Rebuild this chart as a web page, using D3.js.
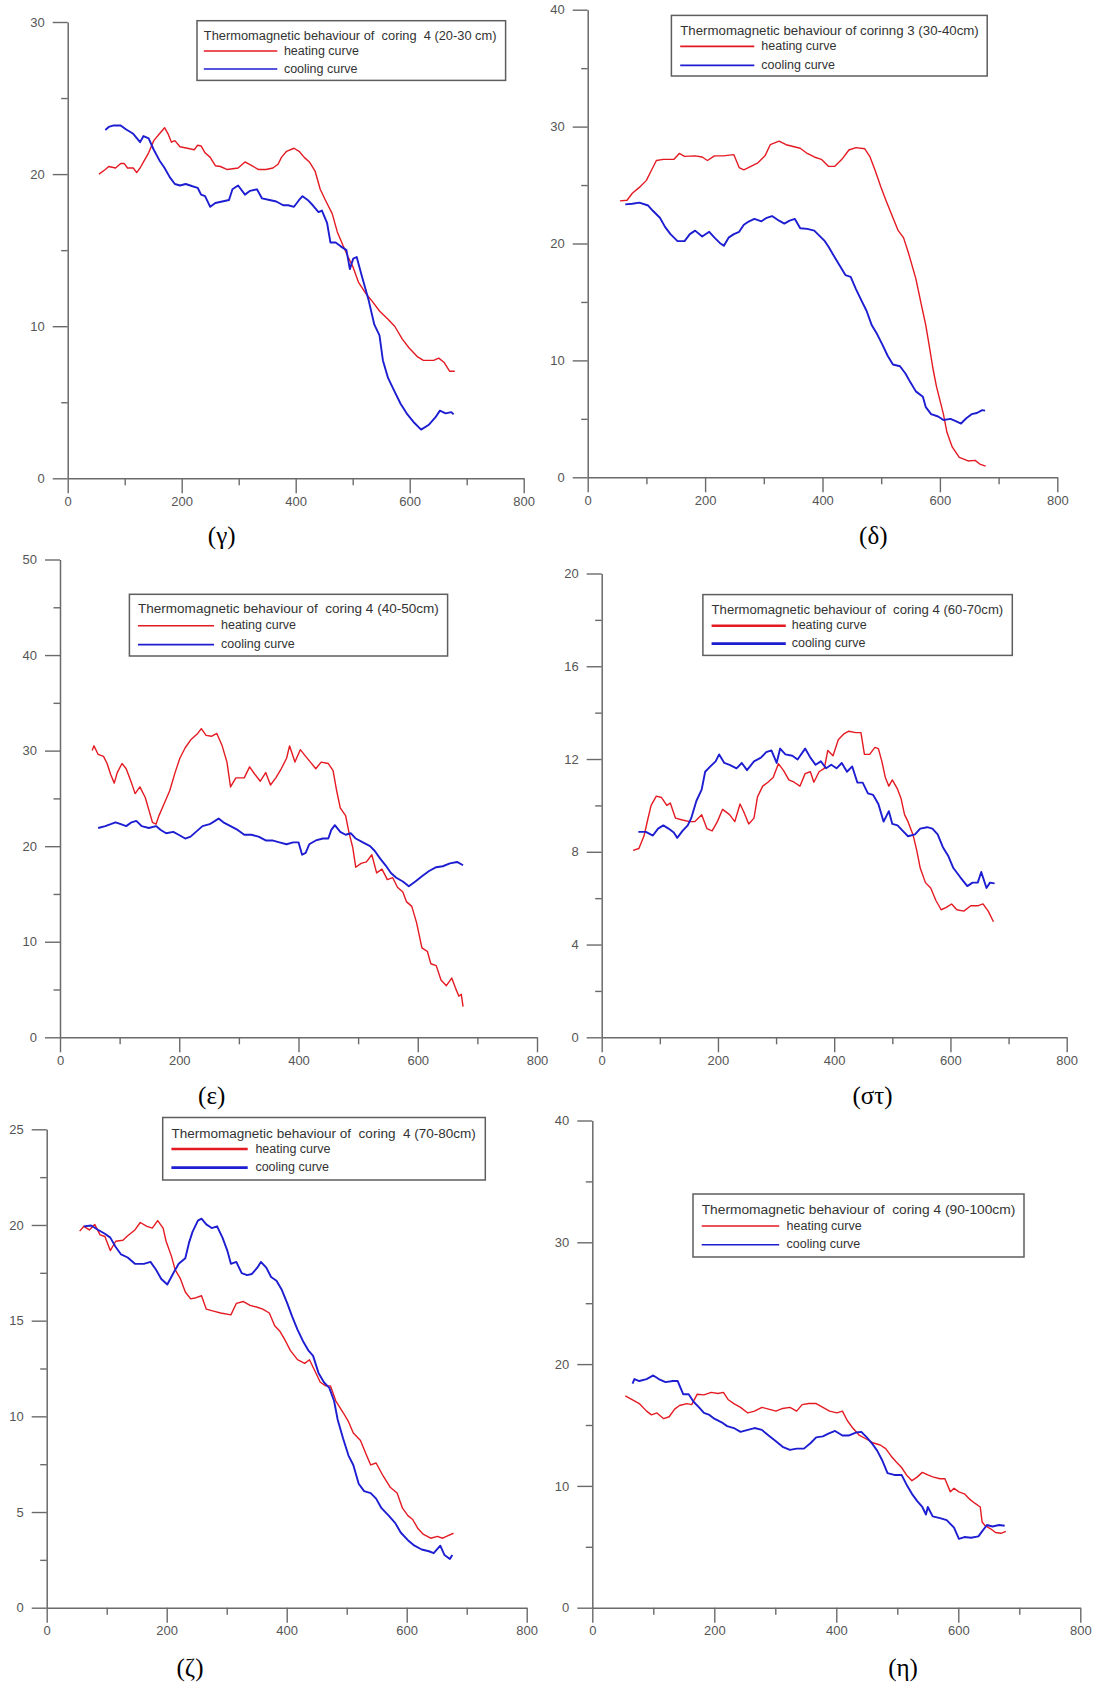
<!DOCTYPE html>
<html>
<head>
<meta charset="utf-8">
<script src="https://cdn.jsdelivr.net/npm/d3@7"></script>
<style>
  body { margin: 0; background: #fff; }
  svg { display: block; }
  text { font-family: "Liberation Sans", Arial, sans-serif; }
  text.caption { font-family: "Liberation Serif", "Times New Roman", serif; }
</style>
</head>
<body>
<svg id="fig" width="1096" height="1690"></svg>
<script>
// ---- data: [temperature, value] ----
const gammaHeat = [[55,20.0],[66,20.3],[72,20.5],[84,20.4],[93,20.7],[99,20.7],[105,20.4],[115,20.4],[121,20.1],[127,20.4],[133,20.8],[142,21.4],[151,22.2],[161,22.65],[170,23.05],[176,22.65],[182,22.1],[188,22.2],[197,21.8],[210,21.7],[222,21.6],[228,21.9],[234,21.85],[241,21.4],[250,21.1],[259,20.55],[268,20.5],[280,20.3],[299,20.4],[311,20.8],[323,20.55],[335,20.3],[348,20.3],[360,20.4],[369,20.65],[375,21.1],[384,21.5],[397,21.7],[406,21.5],[415,21.1],[424,20.8],[434,20.2],[443,19.0],[452,18.3],[464,17.4],[473,16.2],[483,15.3],[492,14.55],[501,13.85],[510,12.9],[522,12.2],[535,11.6],[547,11.0],[562,10.45],[574,9.98],[587,9.15],[599,8.57],[614,7.98],[624,7.75],[642,7.75],[651,7.9],[660,7.63],[670,7.04],[679,7.04]];
const gammaCool = [[66,22.9],[72,23.1],[81,23.2],[93,23.2],[102,22.95],[115,22.65],[127,22.1],[133,22.5],[142,22.35],[151,21.6],[161,20.9],[170,20.4],[179,19.8],[188,19.35],[197,19.25],[207,19.35],[219,19.2],[228,19.1],[234,18.65],[241,18.55],[250,17.85],[259,18.1],[271,18.2],[283,18.3],[289,19.0],[299,19.25],[311,18.65],[320,18.9],[332,19.0],[341,18.4],[354,18.3],[366,18.2],[378,17.95],[387,17.95],[397,17.85],[406,18.3],[412,18.55],[421,18.3],[430,17.95],[440,17.5],[446,17.6],[455,16.8],[461,15.5],[470,15.5],[479,15.25],[489,15.0],[495,13.75],[501,14.45],[507,14.55],[516,13.3],[528,11.7],[538,10.1],[547,9.4],[553,7.75],[562,6.6],[571,5.9],[584,4.9],[596,4.2],[608,3.65],[620,3.2],[633,3.5],[645,4.0],[653,4.45],[663,4.27],[673,4.35],[677,4.2]];

const deltaHeat = [[55,23.65],[67,23.7],[76,24.3],[88,24.8],[100,25.4],[108,26.2],[117,27.1],[129,27.2],[147,27.2],[156,27.7],[165,27.45],[183,27.5],[195,27.4],[204,27.1],[216,27.5],[231,27.5],[249,27.6],[258,26.5],[266,26.3],[278,26.6],[290,26.9],[302,27.5],[311,28.45],[326,28.75],[338,28.45],[350,28.3],[362,28.15],[374,27.7],[386,27.4],[398,27.2],[410,26.6],[421,26.6],[433,27.2],[445,28.0],[457,28.2],[472,28.1],[481,27.4],[490,26.2],[499,24.9],[508,23.7],[520,22.2],[529,21.1],[538,20.5],[547,19.1],[559,17.0],[568,14.85],[576,13.0],[582,11.2],[588,9.35],[594,7.8],[600,6.6],[606,5.4],[612,3.85],[621,2.6],[633,1.7],[648,1.4],[660,1.45],[669,1.1],[678,0.95]];
const deltaCool = [[64,23.35],[76,23.4],[88,23.5],[103,23.25],[111,22.8],[123,22.2],[132,21.4],[141,20.8],[153,20.2],[165,20.2],[174,20.8],[183,21.1],[195,20.6],[207,21.0],[216,20.5],[225,20.05],[232,19.8],[240,20.5],[249,20.8],[258,21.0],[266,21.6],[275,21.9],[284,22.1],[296,21.9],[305,22.2],[314,22.35],[326,21.95],[335,21.7],[344,21.95],[353,22.1],[362,21.3],[374,21.25],[386,21.1],[395,20.65],[404,20.2],[410,19.75],[421,18.8],[430,18.05],[439,17.3],[448,17.15],[457,16.1],[466,15.15],[475,14.25],[484,13.0],[493,12.25],[502,11.35],[511,10.4],[520,9.65],[532,9.5],[541,8.9],[550,8.1],[559,7.35],[571,6.9],[576,6.0],[585,5.4],[597,5.2],[606,4.9],[618,5.0],[627,4.8],[636,4.6],[645,5.05],[654,5.4],[663,5.5],[672,5.75],[677,5.7]];

const epsilonHeat = [[54,30.0],[57,30.5],[64,29.6],[73,29.4],[79,28.65],[85,27.5],[91,26.6],[96,27.7],[104,28.65],[111,28.1],[120,26.6],[126,25.5],[134,26.2],[143,25.1],[149,23.8],[155,22.5],[161,22.3],[166,23.2],[175,24.5],[184,25.8],[193,27.7],[201,29.2],[210,30.3],[219,31.1],[231,31.8],[237,32.3],[245,31.6],[254,31.5],[263,31.8],[272,30.5],[280,28.8],[286,26.2],[295,27.15],[309,27.15],[318,28.3],[327,27.5],[336,26.8],[345,27.7],[353,26.4],[362,27.15],[371,28.1],[380,29.2],[385,30.5],[394,28.8],[403,30.1],[412,29.4],[420,28.8],[429,28.1],[438,28.8],[450,28.65],[458,27.9],[464,25.8],[470,24.0],[479,23.2],[485,21.35],[491,19.85],[496,17.8],[505,18.2],[514,18.35],[523,19.1],[531,17.2],[540,17.6],[549,16.5],[558,16.7],[566,15.7],[575,15.2],[581,14.2],[590,13.7],[598,12.0],[607,9.35],[616,9.0],[622,7.7],[631,7.5],[639,6.0],[648,5.4],[657,6.2],[663,5.2],[669,4.3],[673,4.5],[676,3.2]];
const epsilonCool = [[64,21.9],[76,22.1],[85,22.3],[93,22.5],[102,22.3],[111,22.1],[120,22.5],[128,22.65],[137,22.1],[149,21.9],[161,22.1],[169,21.7],[178,21.35],[190,21.5],[199,21.2],[210,20.8],[219,21.0],[228,21.5],[239,22.1],[251,22.3],[260,22.65],[266,22.9],[274,22.5],[286,22.1],[298,21.7],[309,21.2],[321,21.2],[333,21.0],[345,20.6],[356,20.6],[368,20.4],[380,20.2],[391,20.4],[400,20.4],[406,19.1],[412,19.3],[418,20.2],[429,20.6],[441,20.8],[450,20.8],[455,21.7],[461,22.2],[470,21.5],[479,21.2],[488,21.35],[496,20.8],[508,20.4],[520,20.0],[528,19.5],[537,18.7],[546,18.0],[555,17.2],[564,16.7],[575,16.3],[585,15.8],[596,16.3],[607,16.85],[619,17.4],[631,17.8],[642,17.9],[654,18.2],[666,18.35],[676,18.0]];

const sigmaTauHeat = [[54,8.06],[64,8.14],[73,8.7],[79,9.37],[85,10.0],[94,10.4],[103,10.34],[112,10.0],[118,10.1],[127,9.45],[139,9.37],[151,9.3],[160,9.3],[172,9.6],[181,9.0],[190,8.9],[199,9.3],[208,9.83],[220,9.6],[229,9.3],[238,10.06],[244,9.75],[253,9.2],[262,9.45],[268,10.37],[277,10.83],[286,11.0],[295,11.2],[304,11.8],[313,11.5],[322,11.1],[331,11.0],[341,10.83],[350,11.37],[359,11.45],[365,11.0],[374,11.45],[383,11.6],[389,12.37],[398,12.14],[407,12.83],[416,13.07],[425,13.2],[437,13.14],[446,13.14],[452,12.2],[461,12.2],[470,12.5],[476,12.45],[482,11.9],[488,11.2],[494,10.83],[500,11.1],[509,10.7],[515,10.3],[521,9.6],[527,9.3],[536,8.7],[542,8.06],[548,7.3],[557,6.67],[566,6.44],[575,5.9],[584,5.5],[593,5.6],[602,5.75],[611,5.5],[623,5.44],[635,5.67],[647,5.67],[656,5.75],[665,5.44],[674,4.98]];
const sigmaTauCool = [[63,8.86],[76,8.86],[88,8.7],[97,9.0],[106,9.14],[115,9.0],[124,8.83],[130,8.6],[139,8.9],[148,9.14],[154,9.45],[163,10.2],[172,10.68],[178,11.45],[187,11.68],[196,11.9],[202,12.2],[211,11.83],[220,11.75],[232,11.6],[241,11.83],[250,11.52],[262,11.9],[274,12.06],[283,12.3],[292,12.37],[301,11.83],[307,12.45],[316,12.2],[328,12.14],[337,11.98],[350,12.45],[359,12.06],[368,11.75],[377,11.9],[386,11.6],[395,11.75],[404,11.6],[413,11.83],[422,11.45],[431,11.68],[440,10.98],[449,10.98],[458,10.52],[467,10.45],[476,10.06],[485,9.3],[494,9.75],[500,9.2],[509,9.14],[518,8.9],[527,8.67],[539,8.75],[548,9.0],[560,9.06],[569,9.0],[578,8.75],[587,8.2],[596,7.83],[605,7.3],[617,6.9],[629,6.52],[638,6.67],[647,6.67],[653,7.13],[662,6.44],[668,6.67],[676,6.64]];

const zetaHeat = [[55,19.68],[62,19.93],[71,19.74],[80,20.03],[89,19.48],[97,19.4],[106,18.66],[115,19.15],[127,19.2],[135,19.44],[147,19.74],[156,20.13],[167,19.93],[176,19.84],[185,20.23],[194,19.84],[199,19.15],[208,18.36],[214,17.67],[223,17.18],[231,16.5],[240,16.14],[249,16.2],[258,16.3],[266,15.6],[278,15.5],[290,15.4],[307,15.3],[316,15.9],[328,16.0],[339,15.8],[351,15.7],[360,15.6],[371,15.4],[380,14.73],[389,14.43],[398,13.94],[406,13.45],[418,12.96],[430,12.77],[438,12.96],[447,12.37],[456,11.78],[465,11.59],[473,11.59],[482,10.8],[494,10.2],[503,9.72],[511,9.13],[523,8.74],[532,8.05],[540,7.46],[549,7.56],[561,6.87],[573,6.28],[584,5.99],[593,5.2],[602,4.81],[610,4.61],[619,4.12],[628,3.83],[640,3.63],[651,3.73],[660,3.63],[669,3.77],[678,3.89]];
const zetaCool = [[62,19.93],[74,19.97],[86,19.74],[97,19.54],[106,19.34],[115,18.85],[124,18.46],[135,18.3],[147,17.97],[162,17.97],[173,18.07],[182,17.67],[191,17.18],[201,16.89],[211,17.48],[220,17.97],[231,18.26],[237,19.05],[243,19.64],[252,20.23],[258,20.33],[266,20.03],[275,19.84],[284,19.93],[293,19.34],[301,18.66],[307,17.97],[316,18.07],[325,17.48],[334,17.38],[342,17.44],[351,17.77],[357,18.07],[366,17.77],[374,17.28],[383,17.09],[392,16.6],[401,15.9],[409,15.22],[418,14.53],[427,13.94],[436,13.45],[444,13.16],[453,12.27],[462,11.78],[471,11.49],[479,10.8],[485,9.82],[494,8.84],[503,7.95],[511,7.46],[520,6.48],[529,6.09],[540,5.99],[549,5.7],[558,5.2],[570,4.81],[581,4.42],[590,3.93],[602,3.53],[613,3.24],[625,3.04],[637,2.95],[645,2.85],[656,3.24],[663,2.75],[672,2.55],[676,2.75]];

const etaHeat = [[54,17.4],[66,17.07],[77,16.76],[89,16.14],[97,15.83],[106,15.99],[117,15.52],[126,15.68],[135,16.3],[143,16.6],[155,16.76],[163,16.67],[172,17.53],[183,17.47],[195,17.68],[206,17.59],[215,17.68],[223,17.07],[232,16.76],[243,16.45],[255,15.99],[266,16.14],[278,16.45],[289,16.3],[301,16.14],[312,16.36],[324,16.45],[335,16.14],[344,16.67],[355,16.76],[367,16.76],[378,16.45],[389,16.14],[401,15.99],[410,16.14],[418,15.37],[427,14.75],[438,14.14],[450,13.83],[461,13.52],[472,13.36],[481,13.06],[490,12.44],[498,11.98],[507,11.51],[515,10.9],[524,10.43],[533,10.74],[541,11.11],[550,10.9],[558,10.74],[570,10.59],[578,10.59],[587,9.51],[593,9.81],[601,9.51],[610,9.35],[619,8.89],[627,8.58],[636,8.27],[639,7.04],[644,6.73],[653,6.48],[661,6.17],[670,6.11],[678,6.27]];
const etaCool = [[66,18.4],[69,18.77],[77,18.61],[89,18.77],[100,19.07],[109,18.77],[120,18.52],[132,18.61],[140,18.61],[149,17.53],[158,17.53],[166,16.91],[175,16.45],[183,15.99],[192,15.83],[200,15.52],[212,15.22],[221,14.91],[232,14.75],[243,14.44],[255,14.6],[266,14.75],[278,14.6],[289,14.14],[301,13.67],[312,13.21],[324,12.96],[335,13.06],[347,13.06],[358,13.52],[367,13.98],[378,14.07],[387,14.29],[398,14.51],[410,14.14],[421,14.14],[432,14.38],[441,14.44],[450,13.98],[458,13.52],[467,12.9],[475,12.13],[484,11.05],[495,10.9],[507,10.9],[515,10.12],[524,9.35],[533,8.73],[541,8.27],[547,7.65],[550,8.27],[558,7.5],[570,7.35],[581,7.19],[593,6.57],[601,5.65],[610,5.8],[621,5.74],[633,5.86],[639,6.27],[647,6.79],[656,6.67],[667,6.79],[676,6.73]];

const heatSeries = [gammaHeat, deltaHeat, epsilonHeat, sigmaTauHeat, zetaHeat, etaHeat];
const coolSeries = [gammaCool, deltaCool, epsilonCool, sigmaTauCool, zetaCool, etaCool];

const xTickValues = [0, 200, 400, 600, 800];
const xMinorValues = [100, 300, 500, 700];
const yMaxValues = [30, 40, 50, 20, 25, 40];
const yStepValues = [10, 10, 10, 4, 5, 10];
const seriesNames = ["heating curve", "cooling curve"];
const legendTitles = [
  "Thermomagnetic behaviour of  coring  4 (20-30 cm)",
  "Thermomagnetic behaviour of corinng 3 (30-40cm)",
  "Thermomagnetic behaviour of  coring 4 (40-50cm)",
  "Thermomagnetic behaviour of  coring 4 (60-70cm)",
  "Thermomagnetic behaviour of  coring  4 (70-80cm)",
  "Thermomagnetic behaviour of  coring 4 (90-100cm)"
];
const captions = ["(γ)", "(δ)", "(ε)", "(στ)", "(ζ)", "(η)"];

// ---- layout (pixel frames of each panel) ----
const layout = [
  { l: 67.7, r: 523.7, t: 22, b: 478.3, box: [197, 20.7, 308.6, 59.7], tY: 35, hY: 51, cY: 69, lx: [203.8, 277.3], tx: 283.9, tw: 292.7, capX: 221.7, capY: 544, lw: 1.6 },
  { l: 587.7, r: 1057.3, t: 9.7, b: 477.3, box: [671.4, 15.4, 315.8, 60.6], tY: 30.4, hY: 46.4, cY: 65.4, lx: [680.2, 754.3], tx: 761.3, tw: 298.6, capX: 873.3, capY: 544, lw: 1.6 },
  { l: 60, r: 537, t: 559.5, b: 1037.3, box: [129.4, 594.3, 318.2, 61.7], tY: 608.6, hY: 625.7, cY: 644.6, lx: [138, 214], tx: 221, tw: 300.8, capX: 211.7, capY: 1104, lw: 1.6 },
  { l: 601.7, r: 1066.7, t: 573.5, b: 1037.3, box: [702.9, 594.6, 309.4, 60.8], tY: 609, hY: 625.7, cY: 643.6, lx: [711.6, 785.8], tx: 791.7, tw: 291.6, capX: 872.5, capY: 1104, lw: 2.6 },
  { l: 46.7, r: 526.7, t: 1129.3, b: 1607.7, box: [162.7, 1117.5, 322.6, 62.5], tY: 1133, hY: 1149, cY: 1167.6, lx: [171.4, 247.7], tx: 255.4, tw: 304.5, capX: 190, capY: 1676, lw: 2.6 },
  { l: 592.3, r: 1080.3, t: 1120.5, b: 1607.7, box: [693, 1194, 331, 63], tY: 1209, hY: 1226, cY: 1244.7, lx: [701.7, 779.2], tx: 786.6, tw: 313.6, capX: 903, capY: 1676, lw: 1.6 }
];

const heatColor = "#e41a22";
const coolColor = "#1d1dd2";
const axisColor = "#6a6a6a";

const svg = d3.select("#fig");
svg.append("rect").attr("width", 1096).attr("height", 1690).attr("fill", "#fff");

layout.forEach((L, i) => {
  const g = svg.append("g");
  const yMax = yMaxValues[i];
  const step = yStepValues[i];
  const majors = d3.range(0, yMax + step / 2, step);
  const minors = majors.slice(0, -1).map(v => v + step / 2);

  const x = d3.scaleLinear().domain([0, 800]).range([L.l, L.r]);
  const y = d3.scaleLinear().domain([0, yMax]).range([L.b, L.t]);

  // y axis (major + minor ticks)
  g.append("g")
    .attr("transform", `translate(${L.l},0)`)
    .call(d3.axisLeft(y).tickValues(majors).tickSize(15).tickSizeOuter(0).tickPadding(8).tickFormat(d3.format("d")));
  g.append("g")
    .attr("transform", `translate(${L.l},0)`)
    .call(d3.axisLeft(y).tickValues(minors).tickSize(6.5).tickFormat(""))
    .call(s => s.select(".domain").remove());

  // x axis
  g.append("g")
    .attr("transform", `translate(0,${L.b})`)
    .call(d3.axisBottom(x).tickValues(xTickValues).tickSize(15).tickSizeOuter(0).tickPadding(3));
  g.append("g")
    .attr("transform", `translate(0,${L.b})`)
    .call(d3.axisBottom(x).tickValues(xMinorValues).tickSize(7).tickFormat(""))
    .call(s => s.select(".domain").remove());

  g.selectAll(".domain").attr("stroke", axisColor).attr("stroke-width", 1.5);
  g.selectAll(".tick line").attr("stroke", axisColor).attr("stroke-width", 1.4);
  g.selectAll(".tick text")
    .attr("fill", "#555")
    .attr("font-size", 13);

  // curves
  const line = d3.line().x(d => x(d[0])).y(d => y(d[1]));
  g.append("path")
    .datum(heatSeries[i])
    .attr("d", line)
    .attr("fill", "none")
    .attr("stroke", heatColor)
    .attr("stroke-width", 1.4)
    .attr("stroke-linejoin", "round");
  g.append("path")
    .datum(coolSeries[i])
    .attr("d", line)
    .attr("fill", "none")
    .attr("stroke", coolColor)
    .attr("stroke-width", 1.9)
    .attr("stroke-linejoin", "round");

  // legend
  const leg = g.append("g");
  leg.append("rect")
    .attr("x", L.box[0]).attr("y", L.box[1])
    .attr("width", L.box[2]).attr("height", L.box[3])
    .attr("fill", "#fff")
    .attr("stroke", "#5e5e5e")
    .attr("stroke-width", 1.5);
  leg.append("text")
    .attr("x", L.lx[0])
    .attr("y", L.tY + 4.5)
    .attr("font-size", 12.5)
    .attr("fill", "#333")
    .attr("textLength", L.tw)
    .attr("lengthAdjust", "spacingAndGlyphs")
    .style("white-space", "pre")
    .text(legendTitles[i]);
  [[L.hY, heatColor, seriesNames[0]], [L.cY, coolColor, seriesNames[1]]].forEach(([ly, col, name]) => {
    leg.append("line")
      .attr("x1", L.lx[0]).attr("x2", L.lx[1])
      .attr("y1", ly).attr("y2", ly)
      .attr("stroke", col)
      .attr("stroke-width", L.lw);
    leg.append("text")
      .attr("x", L.tx)
      .attr("y", ly + 3.5)
      .attr("font-size", 12.5)
      .attr("fill", "#333")
      .text(name);
  });

  // panel caption
  g.append("text")
    .attr("class", "caption")
    .attr("x", L.capX)
    .attr("y", L.capY)
    .attr("text-anchor", "middle")
    .attr("font-size", 25)
    .attr("fill", "#000")
    .text(captions[i]);
});
</script>
</body>
</html>
